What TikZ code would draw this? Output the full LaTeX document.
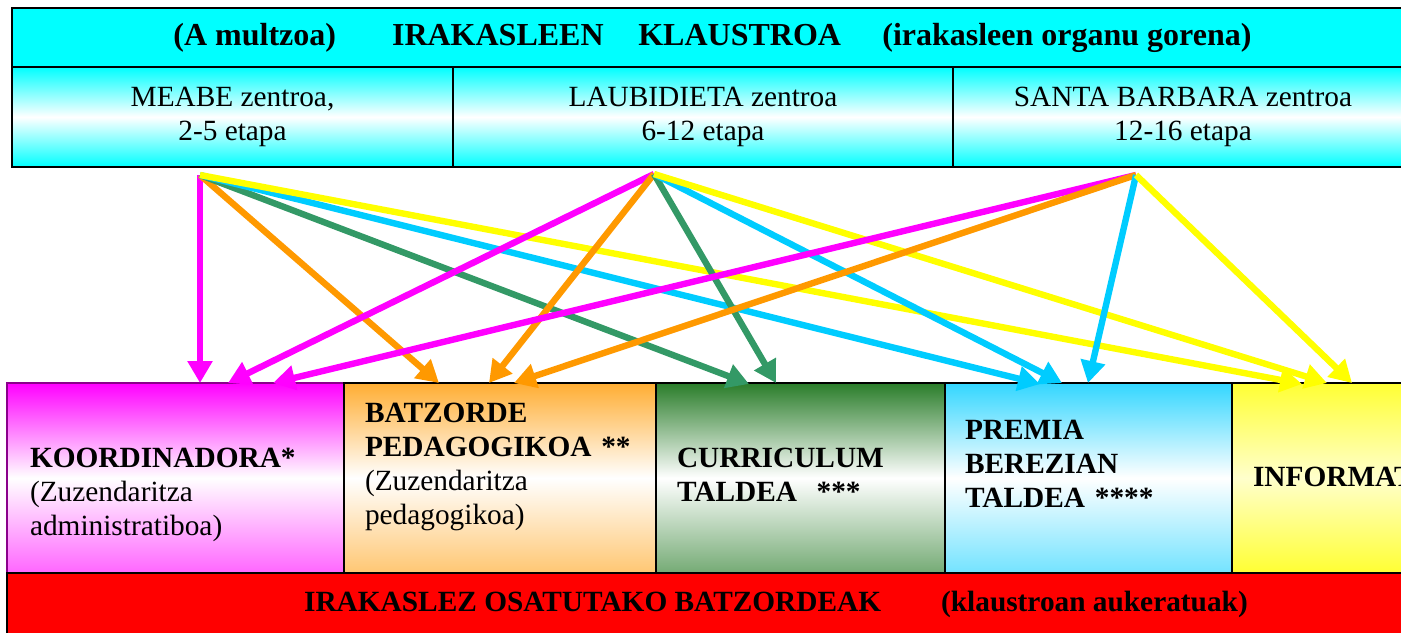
\documentclass[tikz,border=0pt]{standalone}
\usepackage{fontspec}
\setmainfont{Liberation Serif}
\usetikzlibrary{arrows.meta,positioning}

\definecolor{cian}{HTML}{00FFFF}
\definecolor{arrosa}{HTML}{FF00FF}
\definecolor{laranja}{HTML}{FF9900}
\definecolor{berdea}{HTML}{339966}
\definecolor{urdina}{HTML}{00CCFF}
\definecolor{horia}{HTML}{FFFF00}
\definecolor{morea}{HTML}{8B008B}
\definecolor{berdeil}{HTML}{2A7D2A}
\definecolor{gorria}{HTML}{FF0000}

\tikzset{
  zentroa/.style={draw, line width=1.2pt, inner sep=0pt, outer sep=0pt, minimum height=75pt,
    top color=cian, bottom color=cian, middle color=white, align=center,
    font=\fontsize{22}{25.5}\selectfont},
  taldea/.style={draw, line width=1.1pt, inner sep=0pt, outer sep=0pt, minimum height=142.5pt},
  testua/.style={inner sep=0pt, outer sep=0pt, align=left, text width=240pt,
    font=\fontsize{22}{25.5}\selectfont},
  gezia/.style={line width=4.8pt, -{Triangle[length=16.5pt,width=18pt]}},
}

\begin{document}
\begin{tikzpicture}[x=0.75pt, y=-0.75pt]
  \useasboundingbox (0,0) rectangle (1401,632);
  \clip (0,0) rectangle (1401,632);

  % klaustroa eta zentroak
  \node[draw, line width=1.2pt, fill=cian, inner sep=0pt, outer sep=0pt,
    minimum width=1050.75pt, minimum height=44.25pt,
    font=\bfseries\fontsize{24}{28}\selectfont] (klaus) at (712.5,37.5)
    {(A multzoa)\hspace{42pt}IRAKASLEEN\hspace{26pt}KLAUSTROA\hspace{31pt}(irakasleen organu gorena)};
  \node[zentroa, minimum width=330.75pt, below=0pt of klaus.south west, anchor=north west] (meabe)
    {MEABE zentroa,\\2-5 etapa};
  \node[zentroa, minimum width=375pt, right=0pt of meabe] (laubi) {LAUBIDIETA zentroa\\6-12 etapa};
  \node[zentroa, minimum width=345pt, right=0pt of laubi] (santa) {SANTA BARBARA zentroa\\12-16 etapa};

  % batzordeak
  \node[taldea, minimum width=252.75pt, draw=morea, line width=2.2pt,
    top color=arrosa, bottom color=arrosa!60, middle color=white] (koor) at (175.5,478) {};
  \node[taldea, minimum width=234pt, right=0pt of koor,
    top color=laranja!80, bottom color=laranja!55, middle color=white] (batz) {};
  \node[taldea, minimum width=216.75pt, right=0pt of batz,
    top color=berdeil, bottom color=berdeil!65, middle color=white] (curr) {};
  \node[taldea, minimum width=215.25pt, right=0pt of curr,
    top color=urdina!80, bottom color=urdina!55, middle color=white] (prem) {};
  \node[taldea, minimum width=225pt, right=0pt of prem,
    top color=horia!80!white, bottom color=horia!80!white, middle color=horia!20!white] (info) {};
  \node[draw, line width=1.1pt, fill=gorria, inner sep=0pt, outer sep=0pt,
    minimum width=1153.5pt, minimum height=46.5pt, below=0pt of koor.south west, anchor=north west,
    font=\bfseries\fontsize{22}{25.5}\selectfont] (irak)
    {IRAKASLEZ OSATUTAKO BATZORDEAK\hspace{45pt}(klaustroan aukeratuak)};

  \node[testua, anchor=base west] (koorT) at (30,467)
    {\textbf{KOORDINADORA*}\\(Zuzendaritza\\administratiboa)};
  \node[testua, anchor=base west] (batzT) at (365,422)
    {\textbf{BATZORDE}\\\textbf{PEDAGOGIKOA **}\\(Zuzendaritza\\pedagogikoa)};
  \node[testua, anchor=base west] (currT) at (677,467)
    {\textbf{CURRICULUM}\\\textbf{TALDEA\ \ ***}};
  \node[testua, anchor=base west] (premT) at (965,439)
    {\textbf{PREMIA}\\\textbf{BEREZIAN}\\\textbf{TALDEA ****}};
  \node[testua, anchor=base west] (infoT) at (1253,486) {\textbf{INFORMAT}};

  % geziak
  \coordinate (s1) at (200,175);
  \coordinate (s2) at (654,174);
  \coordinate (s3) at (1136,175);
  \coordinate (k1) at (200,383);  \coordinate (k2) at (228,383);  \coordinate (k3) at (273,383);
  \coordinate (b1) at (439,383);  \coordinate (b2) at (489,383);  \coordinate (b3) at (514,383);
  \coordinate (c1) at (749,384);  \coordinate (c2) at (776,383);
  \coordinate (p1) at (1040,384); \coordinate (p2) at (1062,383); \coordinate (p3) at (1088,383);
  \coordinate (i1) at (1302,384); \coordinate (i2) at (1327,383); \coordinate (i3) at (1352,383);

  \path[gezia] (s1) edge[arrosa] (k1)
                    edge[laranja] (b1)
                    edge[berdea] (c1)
                    edge[urdina] (p1)
                    edge[horia] (i1);
  \path[gezia] (s2) edge[arrosa] (k2)
                    edge[laranja] (b2)
                    edge[berdea] (c2)
                    edge[urdina] (p2)
                    edge[horia] (i2);
  \path[gezia] (s3) edge[arrosa] (k3)
                    edge[laranja] (b3)
                    edge[urdina] (p3)
                    edge[horia] (i3);
\end{tikzpicture}
\end{document}
